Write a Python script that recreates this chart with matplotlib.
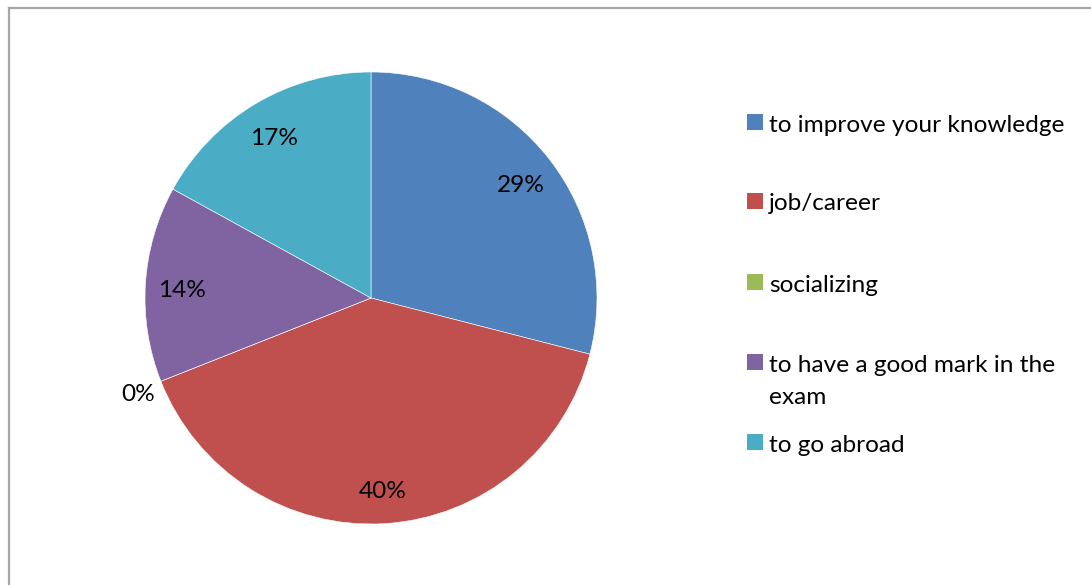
import matplotlib
matplotlib.use("Agg")
import matplotlib.pyplot as plt
from matplotlib.patches import Rectangle
from matplotlib.lines import Line2D
import numpy as np

categories = [
    "to improve your knowledge",
    "job/career",
    "socializing",
    "to have a good mark in the\nexam",
    "to go abroad",
]
shares = [29, 40, 0, 14, 17]
colors = ["#4F81BD", "#C0504D", "#9BBB59", "#8064A2", "#4BACC6"]

plt.rcParams["font.family"] = ["Lato", "DejaVu Sans"]

W, H = 1091, 585
fig = plt.figure(figsize=(W / 100, H / 100), dpi=100)
fig.patch.set_facecolor("white")

# chart area frame (left and top edges)
frame_col = "#A6A6A6"
fig.add_artist(Line2D([8.5 / W, 8.5 / W], [0, 1 - 7.5 / H], transform=fig.transFigure,
                      color=frame_col, lw=1.6))
fig.add_artist(Line2D([8.5 / W, 1], [1 - 7.5 / H, 1 - 7.5 / H], transform=fig.transFigure,
                      color=frame_col, lw=1.6))

# pie
cx, cy, r = 371, 298, 226
ax = fig.add_axes([(cx - r) / W, (H - cy - r) / H, 2 * r / W, 2 * r / H])
wedges, _ = ax.pie(shares, colors=colors, startangle=90, counterclock=False,
                   radius=1.0, wedgeprops=dict(edgecolor="white", linewidth=0.4))
ax.set_xlim(-1, 1)
ax.set_ylim(-1, 1)
ax.set_aspect("equal")
ax.axis("off")

fs = 17.6
for w, v in zip(wedges, shares):
    mid = np.deg2rad((w.theta1 + w.theta2) / 2)
    d = 0.84 if v > 0 else 1.11
    x, y = d * np.cos(mid), d * np.sin(mid) - 0.018
    ax.text(x, y, f"{v}%", ha="center", va="center", fontsize=fs, color="black")

# legend
rows_y = [122, 201, 282, 362, 442]
for lab, col, y in zip(categories, colors, rows_y):
    fig.add_artist(Rectangle((747 / W, 1 - (y + 8) / H), 16 / W, 16 / H,
                             transform=fig.transFigure, facecolor=col, edgecolor="none"))
    first, *rest = lab.split("\n")
    fig.text(769 / W, 1 - (y + 3) / H, first, ha="left", va="center", fontsize=fs, color="black")
    for k, line in enumerate(rest, 1):
        fig.text(769 / W, 1 - (y + 3 + 33 * k) / H, line, ha="left", va="center",
                 fontsize=fs, color="black")

fig.savefig("out.png", dpi=100, facecolor="white")
